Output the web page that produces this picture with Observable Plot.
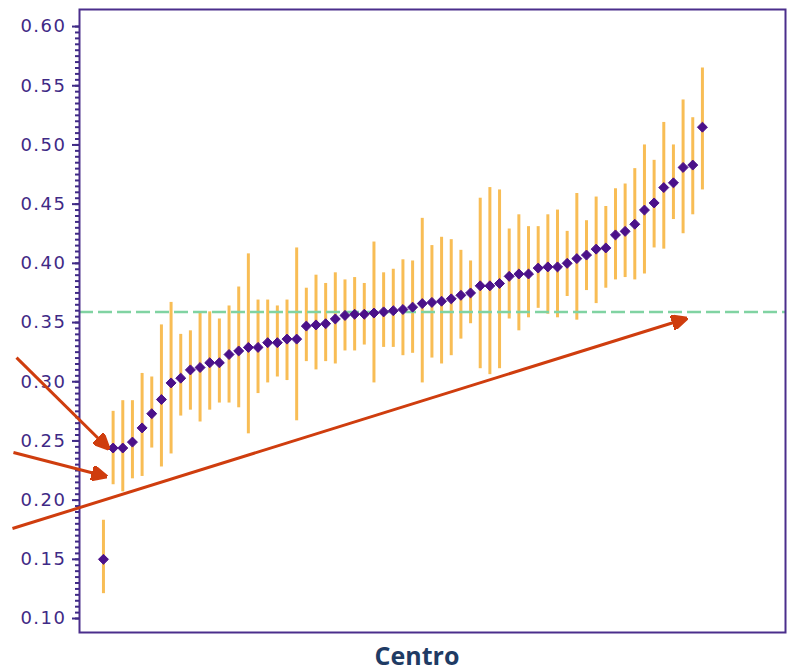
<!DOCTYPE html>
<html>
<head>
<meta charset="utf-8">
<script src="https://cdn.jsdelivr.net/npm/d3@7"></script>
<script src="https://cdn.jsdelivr.net/npm/@observablehq/plot@0.6"></script>
<style>
  body { margin: 0; background: #fff; }
  #wrap { position: relative; width: 788px; height: 672px; overflow: hidden; }
  #xlabel { position: absolute; left: 417px; top: 641px; transform: translateX(-50%);
    font: bold 25px "Open Sans", "DejaVu Sans", sans-serif; color: #1f3b64; line-height: 29px; }
  #chart svg text { letter-spacing: 1.5px; }
</style>
</head>
<body>
<div id="wrap"><div id="chart"></div><div id="xlabel">Centro</div></div>
<script>
// Estimates per centre, sorted (caterpillar plot)
const estimate = [0.150, 0.244, 0.244, 0.249, 0.261, 0.273, 0.285, 0.299, 0.303, 0.310,
  0.312, 0.316, 0.316, 0.323, 0.326, 0.329, 0.329, 0.333, 0.333, 0.336,
  0.336, 0.347, 0.348, 0.349, 0.353, 0.356, 0.357, 0.357, 0.358, 0.359,
  0.360, 0.361, 0.363, 0.366, 0.367, 0.368, 0.370, 0.373, 0.375, 0.381,
  0.381, 0.383, 0.389, 0.391, 0.391, 0.396, 0.397, 0.397, 0.400, 0.404,
  0.407, 0.412, 0.413, 0.424, 0.427, 0.433, 0.445, 0.451, 0.464, 0.468,
  0.481, 0.483, 0.515];
const upper = [0.183, 0.275, 0.284, 0.284, 0.307, 0.304, 0.348, 0.367, 0.340, 0.343,
  0.359, 0.359, 0.353, 0.364, 0.380, 0.408, 0.369, 0.369, 0.364, 0.369,
  0.413, 0.379, 0.390, 0.383, 0.392, 0.386, 0.388, 0.383, 0.418, 0.392,
  0.395, 0.403, 0.402, 0.438, 0.415, 0.422, 0.420, 0.411, 0.402, 0.455,
  0.464, 0.462, 0.429, 0.441, 0.431, 0.431, 0.441, 0.445, 0.427, 0.459,
  0.436, 0.456, 0.448, 0.463, 0.467, 0.480, 0.500, 0.487, 0.519, 0.500,
  0.538, 0.523, 0.565];
const lower = [0.121, 0.213, 0.207, 0.218, 0.220, 0.244, 0.228, 0.239, 0.271, 0.276,
  0.266, 0.276, 0.282, 0.282, 0.278, 0.256, 0.290, 0.299, 0.304, 0.301,
  0.267, 0.317, 0.310, 0.317, 0.315, 0.326, 0.326, 0.331, 0.299, 0.329,
  0.329, 0.322, 0.324, 0.299, 0.320, 0.315, 0.322, 0.336, 0.349, 0.311,
  0.306, 0.311, 0.353, 0.343, 0.354, 0.362, 0.357, 0.354, 0.372, 0.352,
  0.377, 0.366, 0.379, 0.386, 0.388, 0.386, 0.391, 0.413, 0.412, 0.437,
  0.425, 0.441, 0.462];
const referenceValue = 0.359;
const yTicks = [0.10, 0.15, 0.20, 0.25, 0.30, 0.35, 0.40, 0.45, 0.50, 0.55, 0.60];
const yMinorTicks = d3.range(0, 101).map(k => 0.10 + k * 0.005).filter(v => v <= 0.6001);

// Annotation arrows, in chart coordinates (centre rank, value)
const arrowX1 = [-9.00, -9.32, -9.42];
const arrowY1 = [0.3204, 0.2402, 0.176];
const arrowX2 = [0.52, 0.31, 60.35];
const arrowY2 = [0.2436, 0.2199, 0.3534];

const rows = estimate.map((e, i) => ({rank: i, est: e, lo: lower[i], hi: upper[i]}));
const arrows = arrowX1.map((x, i) => ({x1: x, y1: arrowY1[i], x2: arrowX2[i], y2: arrowY2[i]}));

const purple = "#3f2a86";
function headMarker(color) {
  const ns = "http://www.w3.org/2000/svg";
  const m = document.createElementNS(ns, "marker");
  m.setAttribute("viewBox", "-15 -7.5 16 15");
  m.setAttribute("markerWidth", 16);
  m.setAttribute("markerHeight", 15);
  m.setAttribute("markerUnits", "userSpaceOnUse");
  m.setAttribute("refX", 0);
  m.setAttribute("refY", 0);
  m.setAttribute("orient", "auto");
  const p = document.createElementNS(ns, "path");
  p.setAttribute("d", "M-15,-7.5L1,0L-15,7.5Z");
  p.setAttribute("fill", color);
  m.appendChild(p);
  return m;
}

const chart = Plot.plot({
  width: 788,
  height: 640,
  marginLeft: 79,
  marginRight: 3,
  marginTop: 9,
  marginBottom: 8,
  style: {fontFamily: "DejaVu Sans, sans-serif", color: purple, background: "#fff"},
  x: {domain: [-2.48, 70.6], axis: null},
  y: {domain: [0.0882, 0.6144]},
  marks: [
    Plot.ruleX(rows, {x: "rank", y1: "lo", y2: "hi", stroke: "#f8b94c", strokeWidth: 3, strokeOpacity: 0.95}),
    Plot.ruleY([referenceValue], {stroke: "#80d3a2", strokeWidth: 2.5, strokeDasharray: "14,5"}),
    Plot.dot(rows, {x: "rank", y: "est", symbol: "diamond2", r: 4.5, fill: "#4b118a", stroke: "#4b118a", strokeWidth: 1}),
    Plot.frame({stroke: "#4b2e8c", strokeWidth: 2}),
    Plot.axisY({ticks: yMinorTicks, tickSize: 4, tickFormat: () => "", label: null, strokeWidth: 2}),
    Plot.axisY({ticks: yTicks, tickSize: 7, tickPadding: 6, tickFormat: d3.format(".2f"), fontSize: 18, label: null, strokeWidth: 2}),
    Plot.link(arrows, {x1: "x1", y1: "y1", x2: "x2", y2: "y2", stroke: "#cf3d0e", strokeWidth: 3, markerEnd: headMarker})
  ]
});
document.getElementById("chart").appendChild(chart);
</script>
</body>
</html>
